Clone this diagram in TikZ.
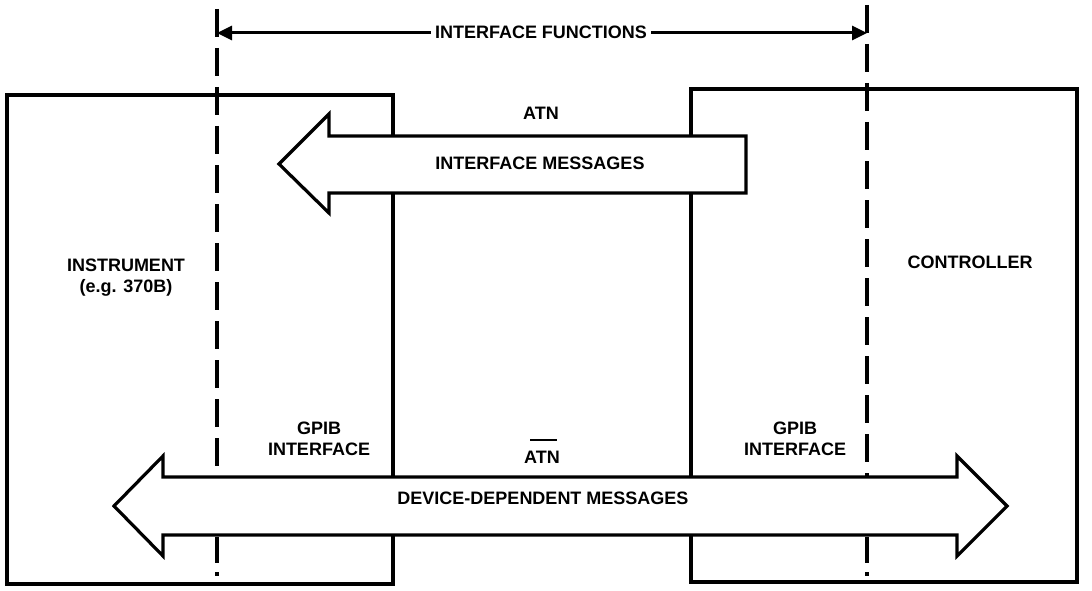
\documentclass[tikz,border=0pt]{standalone}
\usepackage{fontspec}
\setmainfont{Liberation Sans}
\usetikzlibrary{arrows.meta}
\begin{document}
\begin{tikzpicture}[x=1pt,y=-1pt,
  boxst/.style={draw, line width=3.2pt, inner sep=0pt, outer sep=0pt, anchor=north west},
  lbl/.style={font=\fontsize{18}{21}\selectfont\bfseries, inner sep=0pt, anchor=base},
  fatarrow/.style={draw, line width=3.2pt, fill=white, line join=miter},
  guide/.style={line width=3.3pt, dash pattern=on 28pt off 11pt},
  guidelow/.style={line width=3.3pt, dash pattern=on 26pt off 9pt},
  span/.style={line width=3pt, {Triangle[length=15pt,width=14pt]}-{Triangle[length=15pt,width=14pt]}}]
\useasboundingbox (0,0) rectangle (1092,591);
% boxes
\node[boxst, minimum width=386pt, minimum height=489pt] (instr) at (7,95) {};
\node[boxst, minimum width=386pt, minimum height=493pt] (ctrl) at (691,89) {};
% dashed guide lines
\coordinate (dlt) at (217,9);
\coordinate (dlm) at (217,477);
\coordinate (dln) at (217,537);
\coordinate (dlb) at (217,576);
\coordinate (drt) at (867,5);
\coordinate (drm) at (867,477);
\coordinate (drn) at (867,537);
\coordinate (drb) at (867,576);
\draw[guide] (dlt) -- (dlm);
\draw[guidelow] (dln) -- (dlb);
\draw[guide] (drt) -- (drm);
\draw[guidelow] (drn) -- (drb);
% interface functions span
\coordinate (al) at (217,33);
\coordinate (ar) at (867,33);
\draw[span] (al) -- (ar);
\node[lbl, fill=white, inner xsep=4pt, inner ysep=2pt] (ifn) at (541,39) {INTERFACE FUNCTIONS};
% interface messages arrow
\draw[fatarrow] (746,136) -- (329,136) -- (329,114) -- (279,164) -- (329,213) -- (329,193) -- (746,193) -- cycle;
% device-dependent arrow
\draw[fatarrow] (114,506) -- (163,456) -- (163,477) -- (957,477) -- (957,456) -- (1007,506)
  -- (957,556) -- (957,535) -- (163,535) -- (163,556) -- cycle;
% labels
\node[lbl] (atnt) at (541,120) {ATN};
\node[lbl] (ifm) at (540,169) {INTERFACE MESSAGES};
\node[lbl] (ins) at (126,271) {INSTRUMENT};
\node[lbl] (eg) at (126,292) {(e.g. 370B)};
\node[lbl] (ctl) at (970,268) {CONTROLLER};
\node[lbl] (gpl) at (319,434) {GPIB};
\node[lbl] (ifl) at (319,455) {INTERFACE};
\node[lbl] (gpr) at (795,434) {GPIB};
\node[lbl] (ifr) at (795,455) {INTERFACE};
\node[lbl] (atnb) at (542,463) {ATN};
\draw[line width=2pt] ([xshift=-12pt,yshift=23pt]atnb.base) -- ([xshift=15pt,yshift=23pt]atnb.base);
\node[lbl] (ddm) at (543,504) {DEVICE-DEPENDENT MESSAGES};
\end{tikzpicture}
\end{document}
